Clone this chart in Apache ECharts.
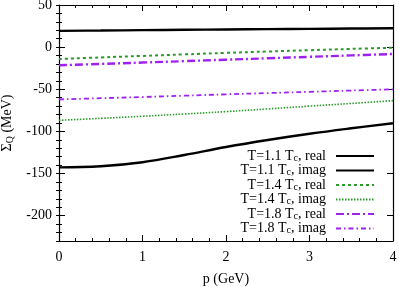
<!DOCTYPE html>
<html><head><meta charset="utf-8">
<script src="https://cdn.jsdelivr.net/npm/echarts@6/dist/echarts.min.js"></script>
<style>html,body{margin:0;padding:0;background:#fff}#c{width:399px;height:287px}</style>
</head><body><div id="c"></div>
<script>
var pValues = [0, 0.5, 1, 1.5, 2, 2.5, 3, 3.5, 4];
var t11Real = [19.3, 19.7, 20.2, 20.6, 21.0, 21.4, 21.7, 22.1, 22.4];
var t11Imag = [-142.6, -141.3, -136.5, -128, -118.5, -110.2, -102.8, -96.3, -90.3];
var t14Real = [-14.1, -12.2, -10.4, -8.6, -6.8, -5.2, -3.6, -2.1, -0.7];
var t14Imag = [-86.8, -84.5, -82, -79.3, -76.5, -73.3, -70, -66.8, -63.5];
var t18Real = [-21.5, -19.9, -18.3, -16.6, -14.9, -13.2, -11.5, -9.8, -8.1];
var t18Imag = [-62, -60.6, -59.2, -57.6, -56, -54.5, -53, -51.5, -50];
var seriesNames = ['T=1.1 T_c, real', 'T=1.1 T_c, imag', 'T=1.4 T_c, real', 'T=1.4 T_c, imag', 'T=1.8 T_c, real', 'T=1.8 T_c, imag'];
var yTickLabels = ['-200', '-150', '-100', '-50', '0', '50'];
var xTickLabels = ['0', '1', '2', '3', '4'];

var FONT = 'Liberation Serif';
function pairs(ys){ return pValues.map(function(p,i){ return [p, ys[i]]; }); }
var styles = [
  {color:'#000000', width:2.4, type:'solid'},
  {color:'#000000', width:2.4, type:'solid'},
  {color:'#2a9a2a', width:2, type:[3,3]},
  {color:'#2a9a2a', width:1.6, type:[1.5,1.5]},
  {color:'#a020f0', width:2.4, type:[8,3,2,3]},
  {color:'#a020f0', width:1.8, type:[5,3,1.5,3]}
];
var dataSets = [t11Real, t11Imag, t14Real, t14Imag, t18Real, t18Imag];
var series = dataSets.map(function(d, i){
  return {
    name: seriesNames[i], type:'line', data: pairs(d), smooth: 0.4,
    symbol:'none', showSymbol:false, xAxisIndex:0, yAxisIndex:0,
    lineStyle: {color: styles[i].color, width: styles[i].width, type: styles[i].type},
    itemStyle: {color: styles[i].color},
    z: 3
  };
});
var tickStyle = {color:'#000', width:1};
function yMain(pos, labels){
  return {type:'value', position:pos, min:-230, max:50, splitNumber:6,
    axisLine:{show:true, onZero:false, lineStyle:{color:'#000', width:1.2}},
    axisTick:{show:true, inside:true, length:6, lineStyle:tickStyle},
    splitLine:{show:false},
    axisLabel:{show:labels, color:'#000', fontFamily:FONT, fontSize:14, margin:7, showMinLabel:false,
      formatter:function(v){ var s=String(v); return yTickLabels.indexOf(s)>=0 ? s : ''; }}
  };
}
function yMinor(pos){
  return {type:'value', position:pos, min:-230, max:50, interval:10,
    axisLine:{show:false}, axisTick:{show:true, inside:true, length:3, lineStyle:tickStyle},
    splitLine:{show:false}, axisLabel:{show:false}};
}
function xAx(pos, labels){
  return {type:'value', position:pos, min:0, max:4, interval:1,
    axisLine:{show:true, onZero:false, lineStyle:{color:'#000', width:1.2}},
    axisTick:{show:true, inside:true, length:6, lineStyle:tickStyle},
    minorTick:{show:true, splitNumber:5, length:3, lineStyle:tickStyle},
    splitLine:{show:false},
    axisLabel:{show:labels, color:'#000', fontFamily:FONT, fontSize:14, margin:9,
      formatter:function(v){ var s=String(v); return xTickLabels.indexOf(s)>=0 ? s : ''; }},
    name: labels ? 'p (GeV)' : '', nameLocation:'middle', nameGap:31,
    nameTextStyle:{color:'#000', fontFamily:FONT, fontSize:14}
  };
}
var yAxes = [yMain('left', true), yMinor('left'), yMain('right', false), yMinor('right')];
yAxes[0].name = 'Σ{q|Q} (MeV)';
yAxes[0].nameLocation = 'middle';
yAxes[0].nameGap = 40;
yAxes[0].nameTextStyle = {color:'#000', fontFamily:FONT, fontSize:14,
  rich:{q:{fontFamily:FONT, fontSize:10, verticalAlign:'bottom', padding:[6,0,0,0], color:'#000'}}};

var chart = echarts.init(document.getElementById('c'), null, {renderer:'canvas'});
chart.setOption({
  animation:false,
  backgroundColor:'#fff',
  grid:{left:59, right:6, top:5, bottom:46, containLabel:false, outerBoundsMode:'none'},
  xAxis:[xAx('bottom', true), xAx('top', false)],
  yAxis: yAxes,
  legend:{
    orient:'vertical', right:19, top:144, align:'right', padding:5,
    itemWidth:38, itemHeight:14, itemGap:0.5,
    data: seriesNames,
    itemStyle:{opacity:0},
    formatter:function(name){
      var parts = name.split('_c');
      return '{a|' + parts[0] + '}{s|c}{a|' + parts[1] + '}';
    },
    textStyle:{width:100, color:'#000', fontFamily:FONT, fontSize:14, lineHeight:14, padding:[0,5,0,0],
      rich:{
        a:{fontFamily:FONT, fontSize:14, lineHeight:14, color:'#000', align:'right'},
        s:{fontFamily:FONT, fontSize:10, lineHeight:14, color:'#000', align:'right', verticalAlign:'bottom'}
      }}
  },
  series: series
});
</script></body></html>
